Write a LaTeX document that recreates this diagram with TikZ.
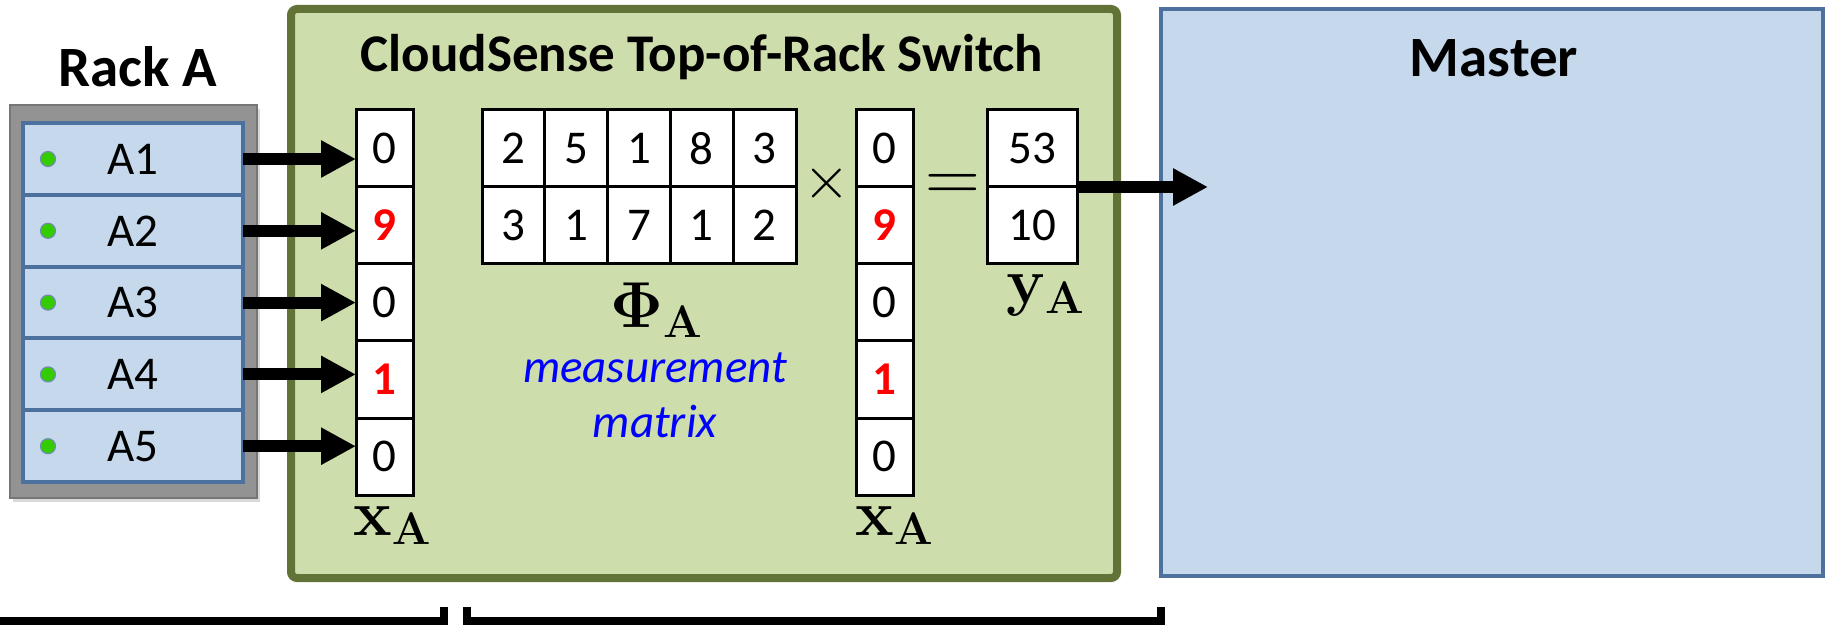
\documentclass[tikz,border=0pt]{standalone}
\usepackage{fix-cm}
\usepackage[no-math]{fontspec}
\setmainfont{Carlito}
\usetikzlibrary{arrows.meta,positioning,shadows}

\definecolor{torgreen}{RGB}{205,221,172}
\definecolor{toredge}{RGB}{98,115,55}
\definecolor{paleblue}{RGB}{197,216,236}
\definecolor{bluedge}{RGB}{76,113,158}
\definecolor{rackgray}{RGB}{147,147,147}
\definecolor{rackedge}{RGB}{118,118,118}
\definecolor{ledgreen}{RGB}{51,204,0}

\tikzstyle{cell} = [draw, fill=white, line width=1.5pt, outer sep=0pt, inner sep=0pt, minimum width=28.5pt, minimum height=38.5pt, font=\fontsize{23.5}{24}\selectfont]
\tikzstyle{mcell} = [cell, minimum width=31.4pt]
\tikzstyle{ycell} = [cell, minimum width=45pt]
\tikzstyle{server} = [draw=bluedge, fill=paleblue, line width=2pt, outer sep=0pt, inner sep=0pt, minimum width=110pt, minimum height=35.9pt, font=\fontsize{23.5}{24}\selectfont]
\tikzstyle{led} = [circle, draw=bluedge!80, fill=ledgreen, line width=0.6pt, minimum size=7.5pt, inner sep=0pt]
\tikzstyle{heading} = [anchor=base, inner sep=0pt, font=\fontsize{28.5}{30}\selectfont\bfseries]
\tikzstyle{vecname} = [anchor=base west, inner sep=0pt, font=\fontsize{32.5}{33}\selectfont]
\tikzstyle{note} = [anchor=base, inner sep=0pt, text=blue, font=\fontsize{23.5}{24}\selectfont\itshape]
\tikzstyle{fat} = [line width=6pt]
\newcommand{\hotval}[1]{\textcolor{red}{\bfseries #1}}

\begin{document}
\begin{tikzpicture}[x=0.5pt, y=-0.5pt, >={Triangle[length=17.5pt,width=17.5pt]}]
\useasboundingbox (0,0) rectangle (1829,625);

% enclosures
\node [draw=toredge, fill=torgreen, line width=4pt, rounded corners=3pt, minimum width=413pt, minimum height=284.5pt] (tor) at (704,293.5) {};
\node [draw=bluedge, fill=paleblue, line width=2pt, minimum width=331pt, minimum height=283.5pt, drop shadow={shadow xshift=1pt, shadow yshift=-1pt, opacity=0.3}] (master) at (1492,292.5) {};
\node [draw=rackedge, fill=rackgray, line width=1pt, minimum width=123.5pt, minimum height=196.5pt, drop shadow={shadow xshift=1.5pt, shadow yshift=-2pt, opacity=0.3}] (rack) at (133.5,301.5) {};

\node [heading] (rackname) at (138,87) {Rack A};
\node [heading, font=\fontsize{26.5}{28}\selectfont\bfseries] (torname) at (702,72) {CloudSense Top-of-Rack Switch};
\node [heading] (mastername) at (1494,77) {Master};

% sparse vector, before and after the product
\foreach \v [count=\i] in {0,\hotval{9},0,\hotval{1},0} {
  \node [cell] (xl\i) at (384.5,71.5+77*\i) {\v};
  \node [cell] (xr\i) at (884.5,71.5+77*\i) {\v};
}

% measurement matrix
\foreach \a/\b [count=\j] in {2/3,5/1,1/7,8/1,3/2} {
  \node [mcell] (pa\j) at (450.6+62.8*\j,148.5) {\a};
  \node [mcell] (pb\j) at (450.6+62.8*\j,225.5) {\b};
}

\node [ycell] (ya1) at (1032,148.5) {53};
\node [ycell] (ya2) at (1032,225.5) {10};

\node [font=\fontsize{30}{30}\selectfont] (times) at (827,184) {$\times$};
\node [font=\fontsize{38}{38}\selectfont] (equals) at (953,188) {$=$};

\node [vecname] (xlname) at (353,535) {$\mathbf{x_A}$};
\node [vecname] (xrname) at (855,535) {$\mathbf{x_A}$};
\node [vecname] (phiname) at (610,328) {$\mathbf{\Phi_A}$};
\node [vecname] (yname) at (1006,304) {$\mathbf{y_A}$};
\node [note] (meas) at (655,382) {measurement};
\node [note] (matx) at (655,437) {matrix};

% servers of the rack
\foreach \i in {1,...,5} {
  \node [server] (a\i) at (133,87.2+71.8*\i) {A\i};
  \node [led, xshift=12.5pt] (led\i) at (a\i.west) {};
  \draw [->, fat] (a\i.east) -- (a\i.east -| xl1.west);
}

\coordinate (tomaster) at (1208,187);
\draw [->, fat] (ya1.south east) -- (tomaster);

\draw [line width=4pt] (-10,621) -- (444,621) -- (444,607);
\draw [line width=4pt] (467,607) -- (467,621) -- (1161,621) -- (1161,607);
\end{tikzpicture}
\end{document}
